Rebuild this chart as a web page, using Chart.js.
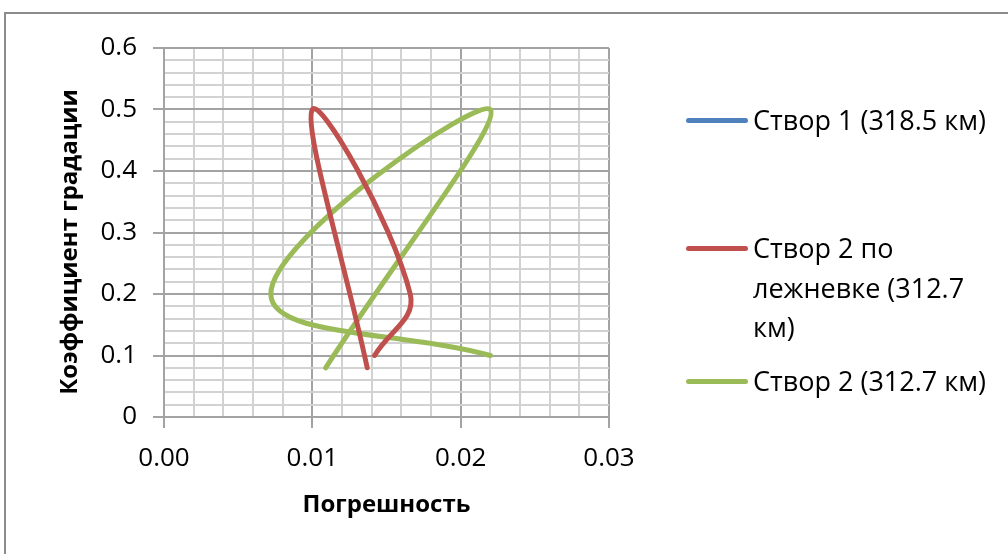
<!DOCTYPE html>
<html>
<head>
<meta charset="utf-8">
<script src="https://cdn.jsdelivr.net/npm/chart.js@4.4.1/dist/chart.umd.min.js"></script>
<style>
  html, body { margin: 0; padding: 0; background: #fff; overflow: hidden; }
  #wrap { position: relative; width: 1008px; height: 554px; }
  #frame { position: absolute; left: 4px; top: 12px; width: 1100px; height: 600px;
           border: 2px solid #8c8c8c; box-sizing: border-box; }
  #plot { position: absolute; left: 0; top: 0; }
  .leg { position: absolute; font-family: "Open Sans", sans-serif; font-size: 27px;
         color: #000; line-height: 39.5px; white-space: nowrap; }
  .sw { position: absolute; height: 5px; border-radius: 3px; width: 62px; }
</style>
</head>
<body>
<div id="wrap">
  <div id="frame"></div>
  <canvas id="plot" width="1008" height="554"></canvas>
  <div id="legend"></div>
</div>
<script>
// Коэффициент градации vs погрешность
const seriesNames = ['Створ 1 (318.5 км)', 'Створ 2 по лежневке (312.7 км)', 'Створ 2 (312.7 км)'];
const seriesColors = ['#4F81BD', '#C0504D', '#9BBB59'];

const stvor1X = [];
const stvor1Y = [];

const lezhnevkaX = [0.0142, 0.0166, 0.0100, 0.0137];
const lezhnevkaY = [0.10, 0.20, 0.50, 0.08];

const stvor2X = [0.0220, 0.0072, 0.0220, 0.0109];
const stvor2Y = [0.10, 0.20, 0.50, 0.08];

const xTickLabels = ['0.00', '0.01', '0.02', '0.03'];
const yTickLabels = ['0', '0.1', '0.2', '0.3', '0.4', '0.5', '0.6'];

const xTitle = 'Погрешность';
const yTitle = 'Коэффициент градации';

const toPoints = (xs, ys) => xs.map((x, i) => ({ x: x, y: ys[i] }));

const FONT = '"Open Sans", sans-serif';
const MAJOR = '#a3a3a3';
const MINOR = '#d2d2d2';

function isMajor(v, step) {
  const r = v / step;
  return Math.abs(r - Math.round(r)) < 1e-6;
}

const datasets = [
  { label: seriesNames[0], data: toPoints(stvor1X, stvor1Y), borderColor: seriesColors[0] },
  { label: seriesNames[1], data: toPoints(lezhnevkaX, lezhnevkaY), borderColor: seriesColors[1] },
  { label: seriesNames[2], data: toPoints(stvor2X, stvor2Y), borderColor: seriesColors[2] }
].map(d => Object.assign(d, {
  showLine: true, borderWidth: 5, pointRadius: 0, pointHoverRadius: 0,
  tension: 0.4, borderCapStyle: 'round', borderJoinStyle: 'round', fill: false
}));

// Axis titles: x title centred under the plot, y title rotated beside the tick labels
const axisTitles = {
  id: 'axisTitles',
  afterDraw(chart) {
    const ctx = chart.ctx;
    const area = chart.chartArea;
    ctx.save();
    ctx.fillStyle = '#000';
    ctx.font = 'bold 24px ' + FONT;
    ctx.textAlign = 'center';
    ctx.textBaseline = 'middle';
    ctx.fillText(xTitle, (area.left + area.right) / 2, 505);
    ctx.translate(70, 242);
    ctx.rotate(-Math.PI / 2);
    ctx.fillText(yTitle, 0, 0);
    ctx.restore();
  }
};

new Chart(document.getElementById('plot'), {
  type: 'scatter',
  data: { datasets: datasets },
  plugins: [axisTitles],
  options: {
    responsive: false,
    animation: false,
    events: [],
    layout: { padding: { left: 40, top: 48, right: 399, bottom: 0 } },
    plugins: { legend: { display: false }, tooltip: { enabled: false } },
    scales: {
      x: {
        type: 'linear', min: 0, max: 0.03,
        afterFit: s => { s.height = 137; },
        ticks: {
          stepSize: 0.002, autoSkip: false, maxRotation: 0, padding: 15,
          color: '#000', font: { family: FONT, size: 26 },
          callback: v => isMajor(v, 0.01) ? xTickLabels[Math.round(v / 0.01)] : ''
        },
        grid: {
          lineWidth: 2, tickLength: 11,
          color: c => isMajor(c.tick.value, 0.01) ? MAJOR : MINOR,
          tickColor: c => isMajor(c.tick.value, 0.01) ? MAJOR : 'rgba(0,0,0,0)'
        },
        border: { color: MAJOR, width: 2 }
      },
      y: {
        type: 'linear', min: 0, max: 0.6,
        afterFit: s => { s.width = 124; },
        ticks: {
          stepSize: 0.02, autoSkip: false, padding: 16,
          color: '#000', font: { family: FONT, size: 26 },
          callback: v => isMajor(v, 0.1) ? yTickLabels[Math.round(v / 0.1)] : ''
        },
        grid: {
          lineWidth: 2, tickLength: 11,
          color: c => isMajor(c.tick.value, 0.1) ? MAJOR : MINOR,
          tickColor: c => isMajor(c.tick.value, 0.1) ? MAJOR : 'rgba(0,0,0,0)'
        },
        border: { color: MAJOR, width: 2 }
      }
    }
  }
});

// Legend on the right
const legendRows = [
  { lines: ['Створ 1 (318.5 км)'], top: 100 },
  { lines: ['Створ 2 по', 'лежневке (312.7', 'км)'], top: 228 },
  { lines: ['Створ 2 (312.7 км)'], top: 361 }
];
const legendBox = document.getElementById('legend');
legendRows.forEach((row, i) => {
  const sw = document.createElement('div');
  sw.className = 'sw';
  sw.style.left = '686px';
  sw.style.top = (row.top + 18) + 'px';
  sw.style.background = seriesColors[i];
  legendBox.appendChild(sw);
  const tx = document.createElement('div');
  tx.className = 'leg';
  tx.style.left = '753px';
  tx.style.top = row.top + 'px';
  tx.innerHTML = row.lines.join('<br>');
  legendBox.appendChild(tx);
});
</script>
</body>
</html>
